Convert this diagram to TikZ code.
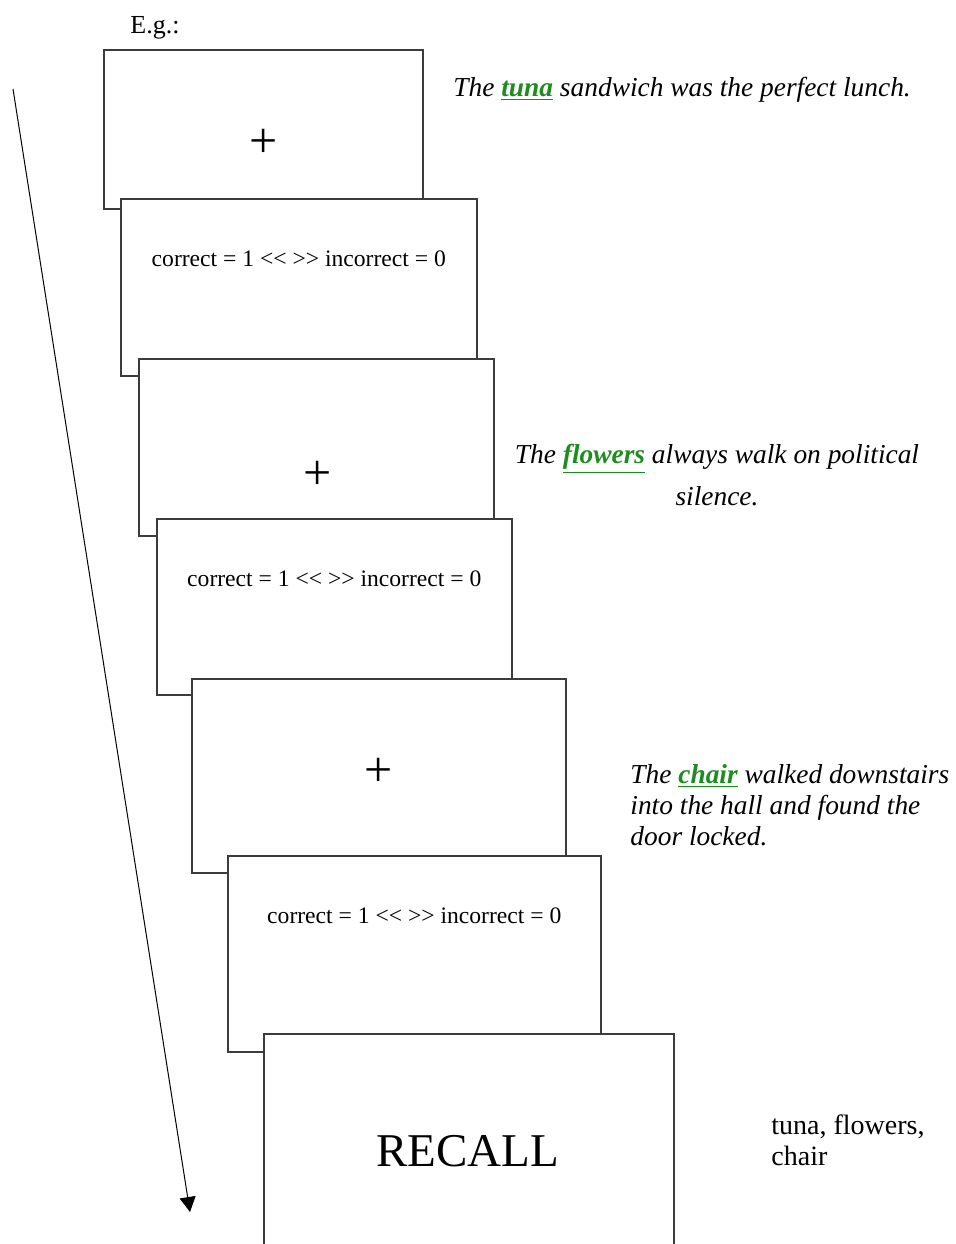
\documentclass[tikz,border=0pt]{standalone}
\usepackage{fontspec}
\setmainfont{Liberation Serif}
\usetikzlibrary{arrows.meta,calc}

\definecolor{wordgreen}{RGB}{30,140,30}
\definecolor{edgegray}{RGB}{60,60,60}
\newcommand{\keyword}[1]{\textcolor{wordgreen}{\underline{\textbf{#1}}}}

\tikzset{
    card/.style={draw=edgegray, line width=0.8pt, fill=white, anchor=north west, inner sep=0pt},
    fixation/.style={inner sep=0pt, font=\fontsize{25}{30}\selectfont},
    feedback/.style={inner sep=0pt, anchor=base, font=\fontsize{11.8}{14}\selectfont},
    sentence/.style={inner sep=0pt, font=\fontsize{13.7}{17}\selectfont\itshape},
    timeline/.style={-{Triangle[length=7.5pt,width=8pt]}, line width=0.5pt}
}

\begin{document}
\begin{tikzpicture}[x=0.5pt, y=-0.5pt]
    \useasboundingbox (0,0) rectangle (955,1244);

    % Draw the time arrow
    \coordinate (start) at (13,89);
    \coordinate (stop) at (190,1212);
    \draw[timeline] (start) -- (stop);

    % Draw the stacked screens, back to front
    \foreach \n/\bx/\by/\bw/\bh in {1/103/49/319/159, 2/120/198/356/177, 3/138/358/355/177,
                                    4/156/518/355/176, 5/191/678/374/194, 6/227/855/373/196,
                                    7/263/1033/410/217} {
        \node[card, minimum width=\bw*0.5pt, minimum height=\bh*0.5pt] (card\n) at (\bx,\by) {};
    }

    % Fixation crosses
    \node[fixation] (fix1) at ($(card1.north)+(0,94)$) {+};
    \node[fixation] (fix3) at ($(card3.north)+(1,117)$) {+};
    \node[fixation] (fix5) at ($(card5.north)+(0,94)$) {+};

    % Response screens
    \foreach \n in {2,4,6} {
        \node[feedback] (resp\n) at ($(card\n.north)+(0,68)$) {correct = 1 <\kern0pt< >\kern0pt> incorrect = 0};
    }

    % Last screen
    \node[anchor=base, inner sep=0pt, font=\fontsize{23.5}{28}\selectfont] (recall) at ($(card7.north)+(-1,133)$) {RECALL};

    % Example label and sentences
    \node[anchor=base west, inner sep=0pt, font=\fontsize{13}{15}\selectfont] (eg) at (130,33) {E.g.:};
    \node[sentence, anchor=base west] (sent1) at (453,96) {The \keyword{tuna} sandwich was the perfect lunch.};
    \node[sentence, anchor=north, align=center, font=\fontsize{13.7}{21}\selectfont\itshape] (sent2) at (717,444)
        {The \keyword{flowers} always walk on political\\silence.};
    \node[sentence, anchor=north west, align=left, font=\fontsize{13.7}{15.5}\selectfont\itshape] (sent3) at (630,764)
        {The \keyword{chair} walked downstairs\\into the hall and found the\\door locked.};
    \node[anchor=north west, align=left, inner sep=0pt, font=\fontsize{14}{15.5}\selectfont] (words) at (771,1114)
        {tuna, flowers,\\chair};
\end{tikzpicture}
\end{document}
